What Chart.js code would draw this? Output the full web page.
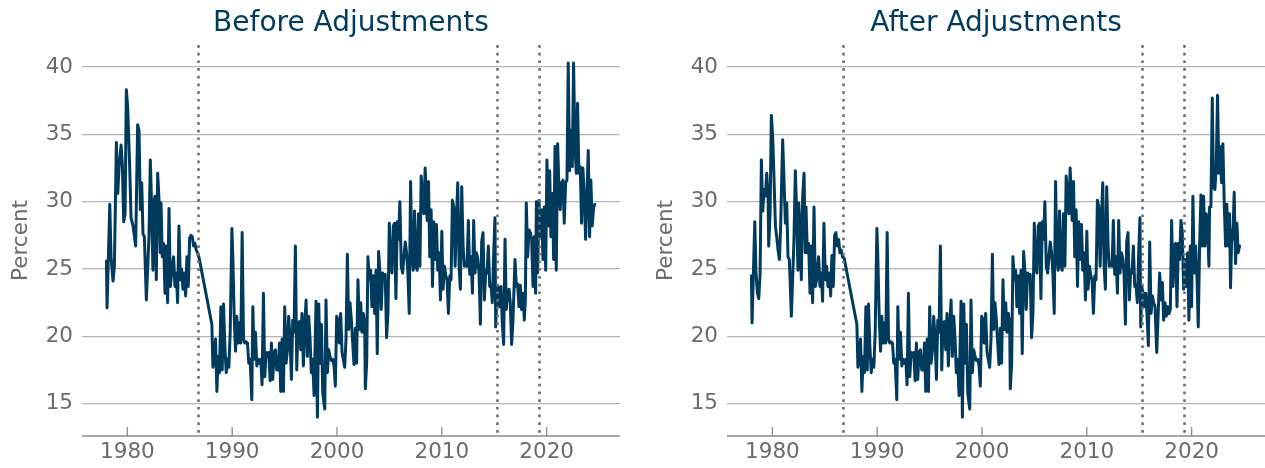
<!DOCTYPE html>
<html>
<head>
<meta charset="utf-8">
<script src="https://cdn.jsdelivr.net/npm/chart.js@4.4.1/dist/chart.umd.min.js"></script>
<style>
  html, body { margin: 0; padding: 0; background: #ffffff; }
  body { width: 1265px; height: 468px; position: relative; overflow: hidden; }
  .panel { position: absolute; top: 0; width: 620px; height: 468px; }
  #leftPanel { left: 0; }
  #rightPanel { left: 645px; }
</style>
</head>
<body>
<div class="panel" id="leftPanel"><canvas id="beforeChart" width="620" height="468"></canvas></div>
<div class="panel" id="rightPanel"><canvas id="afterChart" width="620" height="468"></canvas></div>
<script>
// ---- Data: [decimal year, percent] ----
// 1978 to late 1986, unadjusted
const beforeEarly = [[1978.00,25.6],[1978.06,22.1],[1978.32,29.8],[1978.44,25.9],[1978.63,24.1],[1978.76,25.2],[1978.95,34.4],[1979.08,30.6],[1979.21,32.6],[1979.40,34.2],[1979.52,32.7],[1979.65,28.5],[1979.78,29.1],[1979.90,38.3],[1980.03,37.0],[1980.22,32.6],[1980.35,28.8],[1980.54,28.2],[1980.67,27.4],[1980.79,26.7],[1980.98,35.7],[1981.11,35.3],[1981.24,29.4],[1981.37,31.4],[1981.49,27.6],[1981.62,27.4],[1981.81,22.7],[1982.06,27.4],[1982.19,33.1],[1982.32,29.4],[1982.44,24.9],[1982.51,29.8],[1982.63,30.4],[1982.76,24.2],[1982.89,32.1],[1983.02,30.1],[1983.14,26.2],[1983.21,29.9],[1983.33,25.9],[1983.46,26.9],[1983.59,23.2],[1983.71,26.7],[1983.84,22.5],[1983.97,29.5],[1984.10,23.7],[1984.22,24.7],[1984.41,25.9],[1984.54,23.7],[1984.67,24.7],[1984.79,22.5],[1984.92,28.2],[1985.05,24.2],[1985.17,25.0],[1985.30,23.5],[1985.43,24.7],[1985.56,23.0],[1985.68,25.9],[1985.81,23.7],[1985.94,27.3],[1986.06,27.5],[1986.19,27.4],[1986.32,26.7],[1986.44,26.9],[1986.57,26.4],[1986.70,26.2]];

// 1978 to late 1986, adjusted
const afterEarly = [[1978.00,24.5],[1978.06,21.0],[1978.32,28.5],[1978.44,24.7],[1978.57,23.2],[1978.70,22.8],[1978.83,24.7],[1978.95,33.1],[1979.08,29.3],[1979.21,30.9],[1979.33,30.4],[1979.46,32.1],[1979.59,30.4],[1979.65,26.7],[1979.78,29.1],[1979.90,36.4],[1980.03,34.8],[1980.16,31.6],[1980.29,28.2],[1980.41,27.4],[1980.54,26.4],[1980.67,25.7],[1980.79,28.2],[1980.98,34.6],[1981.11,31.6],[1981.24,28.4],[1981.37,29.9],[1981.49,25.9],[1981.62,25.7],[1981.81,21.5],[1982.06,27.2],[1982.19,32.3],[1982.32,29.1],[1982.44,24.9],[1982.51,29.9],[1982.63,28.2],[1982.76,24.2],[1982.89,30.4],[1983.02,32.1],[1983.14,26.2],[1983.21,29.6],[1983.33,26.2],[1983.46,26.9],[1983.59,23.2],[1983.71,26.7],[1983.84,22.5],[1983.97,29.6],[1984.10,23.7],[1984.22,24.2],[1984.41,25.9],[1984.54,23.7],[1984.67,24.7],[1984.79,22.6],[1984.92,28.4],[1985.05,24.2],[1985.17,25.2],[1985.30,23.7],[1985.43,24.7],[1985.56,23.0],[1985.68,26.0],[1985.81,23.7],[1985.94,27.5],[1986.06,27.7],[1986.19,26.7],[1986.32,27.2],[1986.44,26.2],[1986.57,26.4],[1986.70,25.9]];

// sparse stretch between the first break and 1988
const gapStretch = [[1986.85,25.8],[1988.06,20.9]];

// 1988 to early 2015, identical in both versions
const middleYears = [[1988.16,17.7],[1988.28,18.3],[1988.41,19.8],[1988.54,15.9],[1988.66,18.5],[1988.79,17.3],[1988.92,22.2],[1989.05,17.5],[1989.17,22.4],[1989.30,19.3],[1989.43,17.3],[1989.55,18.3],[1989.68,17.7],[1989.81,20.3],[1989.97,28.0],[1990.06,25.9],[1990.19,21.5],[1990.32,18.9],[1990.44,21.5],[1990.57,19.5],[1990.70,21.0],[1990.82,19.5],[1990.95,27.7],[1991.08,19.8],[1991.20,19.5],[1991.33,19.6],[1991.46,19.5],[1991.58,18.0],[1991.71,18.3],[1991.87,15.3],[1991.97,22.2],[1992.09,18.3],[1992.22,20.3],[1992.35,17.8],[1992.47,18.3],[1992.60,18.0],[1992.73,18.3],[1992.85,16.4],[1992.98,23.2],[1993.11,17.0],[1993.24,18.8],[1993.36,18.5],[1993.49,18.8],[1993.62,16.7],[1993.74,19.5],[1993.87,16.8],[1994.00,18.8],[1994.12,19.0],[1994.25,17.5],[1994.38,17.5],[1994.51,19.5],[1994.63,15.9],[1994.76,19.8],[1994.89,15.9],[1995.01,22.2],[1995.14,18.0],[1995.27,19.0],[1995.39,21.5],[1995.52,19.8],[1995.65,16.8],[1995.78,21.2],[1995.90,20.3],[1996.03,26.7],[1996.16,17.5],[1996.28,21.0],[1996.41,21.1],[1996.54,19.0],[1996.66,21.7],[1996.79,17.8],[1996.92,20.8],[1997.05,22.7],[1997.17,18.5],[1997.30,21.5],[1997.43,19.8],[1997.55,17.3],[1997.68,18.3],[1997.81,15.6],[1998.00,22.6],[1998.13,14.0],[1998.26,22.4],[1998.38,18.0],[1998.51,20.9],[1998.64,15.8],[1998.83,14.6],[1998.95,22.7],[1999.08,17.3],[1999.21,19.0],[1999.33,18.5],[1999.46,18.2],[1999.59,18.3],[1999.72,17.8],[1999.84,16.3],[1999.97,21.5],[2000.10,21.2],[2000.22,19.5],[2000.35,21.7],[2000.48,18.8],[2000.60,18.3],[2000.73,17.7],[2000.86,19.8],[2000.99,26.1],[2001.11,20.5],[2001.24,22.5],[2001.37,21.2],[2001.49,19.6],[2001.62,17.9],[2001.75,20.6],[2001.87,18.0],[2002.00,24.2],[2002.13,20.5],[2002.26,22.5],[2002.38,20.3],[2002.51,21.7],[2002.64,21.0],[2002.70,16.1],[2002.83,18.0],[2002.95,25.9],[2003.08,24.2],[2003.21,24.9],[2003.33,22.2],[2003.46,24.5],[2003.59,21.7],[2003.72,24.9],[2003.84,18.7],[2003.97,26.3],[2004.10,24.7],[2004.22,22.0],[2004.35,24.7],[2004.48,24.3],[2004.60,24.6],[2004.73,19.9],[2004.86,21.7],[2004.99,28.4],[2005.11,25.2],[2005.24,24.7],[2005.37,28.2],[2005.49,28.4],[2005.62,22.8],[2005.75,28.5],[2005.87,27.2],[2006.00,30.0],[2006.13,25.2],[2006.26,24.7],[2006.38,25.9],[2006.51,27.0],[2006.64,26.2],[2006.76,24.7],[2006.89,21.7],[2007.02,31.5],[2007.14,26.2],[2007.27,24.9],[2007.40,29.3],[2007.53,25.2],[2007.65,24.9],[2007.78,29.1],[2007.91,25.2],[2008.03,31.9],[2008.16,30.4],[2008.29,29.1],[2008.41,32.5],[2008.60,28.6],[2008.73,31.5],[2008.85,25.9],[2008.98,29.4],[2009.11,23.7],[2009.23,28.5],[2009.36,25.7],[2009.49,28.3],[2009.61,24.9],[2009.74,26.2],[2009.87,22.7],[2010.00,27.8],[2010.12,23.5],[2010.25,25.2],[2010.38,24.5],[2010.50,24.2],[2010.63,21.7],[2010.76,24.5],[2010.88,24.2],[2011.01,30.1],[2011.14,29.6],[2011.27,25.2],[2011.39,28.6],[2011.52,31.4],[2011.65,25.2],[2011.77,23.5],[2011.90,31.1],[2012.03,26.7],[2012.15,25.2],[2012.28,25.4],[2012.41,25.2],[2012.53,28.6],[2012.66,24.6],[2012.79,25.9],[2012.92,23.2],[2013.04,28.6],[2013.17,24.7],[2013.30,26.2],[2013.42,25.8],[2013.55,24.7],[2013.68,20.9],[2013.80,27.0],[2013.93,27.7],[2014.06,22.7],[2014.19,24.9],[2014.31,24.7],[2014.44,26.7],[2014.57,23.7],[2014.69,23.8],[2014.82,22.5],[2014.95,26.2],[2015.07,28.8]];

// 2015 onward, unadjusted
const beforeLate = [[2015.14,20.7],[2015.27,23.5],[2015.39,23.7],[2015.52,22.2],[2015.65,23.7],[2015.77,21.0],[2015.90,19.4],[2016.03,27.2],[2016.15,22.0],[2016.28,23.2],[2016.41,23.5],[2016.53,22.5],[2016.66,19.4],[2016.79,21.2],[2016.98,25.7],[2017.11,23.7],[2017.23,23.9],[2017.36,22.2],[2017.49,23.8],[2017.61,22.0],[2017.74,23.2],[2017.87,21.2],[2017.97,22.7],[2018.06,29.9],[2018.19,25.9],[2018.32,27.9],[2018.45,27.7],[2018.57,27.2],[2018.70,23.7],[2018.83,27.4],[2018.95,23.2],[2019.02,30.0],[2019.14,24.7],[2019.27,30.1],[2019.40,27.4],[2019.53,29.4],[2019.65,25.7],[2019.78,29.6],[2019.91,24.9],[2020.03,33.1],[2020.16,28.2],[2020.29,32.3],[2020.41,27.4],[2020.54,30.6],[2020.67,25.7],[2020.80,34.1],[2020.92,24.9],[2021.05,34.3],[2021.18,30.9],[2021.30,29.4],[2021.43,31.4],[2021.56,31.6],[2021.68,28.4],[2021.81,31.4],[2021.94,31.6],[2022.06,40.3],[2022.19,32.3],[2022.32,35.3],[2022.45,32.6],[2022.57,40.3],[2022.70,34.3],[2022.83,32.1],[2022.95,37.3],[2023.08,32.1],[2023.21,32.6],[2023.33,28.4],[2023.46,32.5],[2023.59,30.4],[2023.72,27.2],[2023.84,30.4],[2023.97,33.8],[2024.10,27.4],[2024.22,31.6],[2024.35,28.2],[2024.48,29.6],[2024.60,29.8]];

// 2015 onward, adjusted
const afterLate = [[2015.14,20.7],[2015.24,23.7],[2015.37,23.2],[2015.49,22.2],[2015.62,23.2],[2015.75,21.5],[2015.87,19.3],[2016.00,27.0],[2016.13,21.7],[2016.26,23.0],[2016.38,22.5],[2016.51,22.2],[2016.67,18.8],[2016.80,21.5],[2016.95,24.7],[2017.08,22.7],[2017.21,24.0],[2017.33,21.2],[2017.46,22.5],[2017.59,21.5],[2017.71,22.2],[2017.84,21.7],[2017.97,22.0],[2018.09,28.6],[2018.22,23.7],[2018.35,26.7],[2018.47,26.9],[2018.60,22.2],[2018.73,26.9],[2018.85,25.7],[2018.98,28.6],[2019.11,27.7],[2019.24,23.5],[2019.36,25.7],[2019.49,23.7],[2019.62,26.2],[2019.74,21.2],[2019.87,26.7],[2020.00,22.2],[2020.12,30.4],[2020.25,24.7],[2020.38,26.7],[2020.51,24.4],[2020.63,20.7],[2020.76,26.7],[2020.89,30.5],[2021.01,26.7],[2021.14,30.4],[2021.27,26.7],[2021.39,29.1],[2021.52,28.2],[2021.65,25.2],[2021.71,29.6],[2021.84,29.6],[2021.97,37.7],[2022.09,31.1],[2022.22,30.9],[2022.35,32.6],[2022.47,37.9],[2022.60,32.1],[2022.73,34.1],[2022.85,31.4],[2022.98,34.3],[2023.11,29.9],[2023.24,26.7],[2023.36,29.8],[2023.49,26.7],[2023.62,29.1],[2023.71,23.6],[2023.84,27.9],[2023.93,27.2],[2024.06,30.7],[2024.19,25.4],[2024.32,28.4],[2024.44,26.2],[2024.57,26.7]];

// break dates marked with dotted lines
const breakYears = [1986.7, 2015.25, 2019.25];
const xTickValues = [1980, 1990, 2000, 2010, 2020];
const yTickValues = [15, 20, 25, 30, 35, 40];

// ---- Styling ----
const FONT = "'DejaVu Sans', 'Liberation Sans', sans-serif";
const NAVY = '#003a5c';
const LABEL_GRAY = '#6b6b6b';
const GRID_GRAY = '#b4b4b4';
const AXIS_GRAY = '#8a8a8a';
const BREAK_GRAY = '#6e6e6e';

function toPoints(...segments) {
  const pts = [];
  segments.forEach(seg => seg.forEach(([x, y]) => pts.push({ x, y })));
  return pts;
}

// panel title centred over the plotting area
const panelTitle = {
  id: 'panelTitle',
  afterDraw(chart, args, opts) {
    const { ctx, chartArea } = chart;
    ctx.save();
    ctx.font = `28px ${FONT}`;
    ctx.fillStyle = NAVY;
    ctx.textAlign = 'center';
    ctx.textBaseline = 'alphabetic';
    ctx.fillText(opts.text, (chartArea.left + chartArea.right) / 2, 31);
    ctx.restore();
  }
};

// bottom axis line with short inward tick marks
const bottomAxis = {
  id: 'bottomAxis',
  afterDraw(chart) {
    const { ctx, chartArea, scales } = chart;
    const y = chartArea.bottom;
    ctx.save();
    ctx.strokeStyle = AXIS_GRAY;
    ctx.lineWidth = 1.3;
    ctx.beginPath();
    ctx.moveTo(chartArea.left, y);
    ctx.lineTo(chartArea.right, y);
    xTickValues.forEach(v => {
      const x = scales.x.getPixelForValue(v);
      ctx.moveTo(x, y);
      ctx.lineTo(x, y - 9);
    });
    ctx.stroke();
    ctx.restore();
  }
};

// dotted vertical lines at the break dates
const breakLines = {
  id: 'breakLines',
  afterDatasetsDraw(chart) {
    const { ctx, chartArea, scales } = chart;
    ctx.save();
    ctx.strokeStyle = BREAK_GRAY;
    ctx.lineWidth = 2.6;
    ctx.setLineDash([2.7, 5]);
    breakYears.forEach(yr => {
      const x = Math.round(scales.x.getPixelForValue(yr)) + 0.5;
      ctx.beginPath();
      ctx.moveTo(x, chartArea.top);
      ctx.lineTo(x, chartArea.bottom);
      ctx.stroke();
    });
    ctx.restore();
  }
};

function buildPanel(canvasId, title, points) {
  return new Chart(document.getElementById(canvasId), {
    type: 'line',
    data: {
      datasets: [{
        data: points,
        borderColor: NAVY,
        borderWidth: 3,
        borderJoinStyle: 'round',
        borderCapStyle: 'round',
        pointRadius: 0,
        tension: 0,
        fill: false
      }]
    },
    options: {
      responsive: false,
      animation: false,
      devicePixelRatio: 1,
      layout: { padding: { top: 45, left: 0, right: 0, bottom: 0 } },
      plugins: {
        legend: { display: false },
        tooltip: { enabled: false },
        title: { display: false },
        panelTitle: { text: title }
      },
      scales: {
        x: {
          type: 'linear',
          min: 1975.67,
          max: 2027.0,
          afterBuildTicks: s => { s.ticks = xTickValues.map(v => ({ value: v })); },
          afterFit: s => { s.height = 32; },
          ticks: {
            color: LABEL_GRAY,
            font: { family: FONT, size: 21.5 },
            padding: 4,
            maxRotation: 0,
            autoSkip: false,
            callback: v => String(v)
          },
          grid: { display: false, drawTicks: false },
          border: { display: false }
        },
        y: {
          type: 'linear',
          min: 12.6,
          max: 41.63,
          afterBuildTicks: s => { s.ticks = yTickValues.map(v => ({ value: v })); },
          afterFit: s => { s.width = 82; },
          ticks: {
            color: LABEL_GRAY,
            font: { family: FONT, size: 21.5 },
            padding: 9,
            callback: v => String(v)
          },
          grid: { color: GRID_GRAY, lineWidth: 1.3, drawTicks: false },
          border: { display: false },
          title: {
            display: true,
            text: 'Percent',
            color: LABEL_GRAY,
            font: { family: FONT, size: 21.5 },
            padding: { top: 9, bottom: 0 }
          }
        }
      }
    },
    plugins: [breakLines, bottomAxis, panelTitle]
  });
}

buildPanel('beforeChart', 'Before Adjustments', toPoints(beforeEarly, gapStretch, middleYears, beforeLate));
buildPanel('afterChart', 'After Adjustments', toPoints(afterEarly, gapStretch, middleYears, afterLate));
</script>
</body>
</html>
